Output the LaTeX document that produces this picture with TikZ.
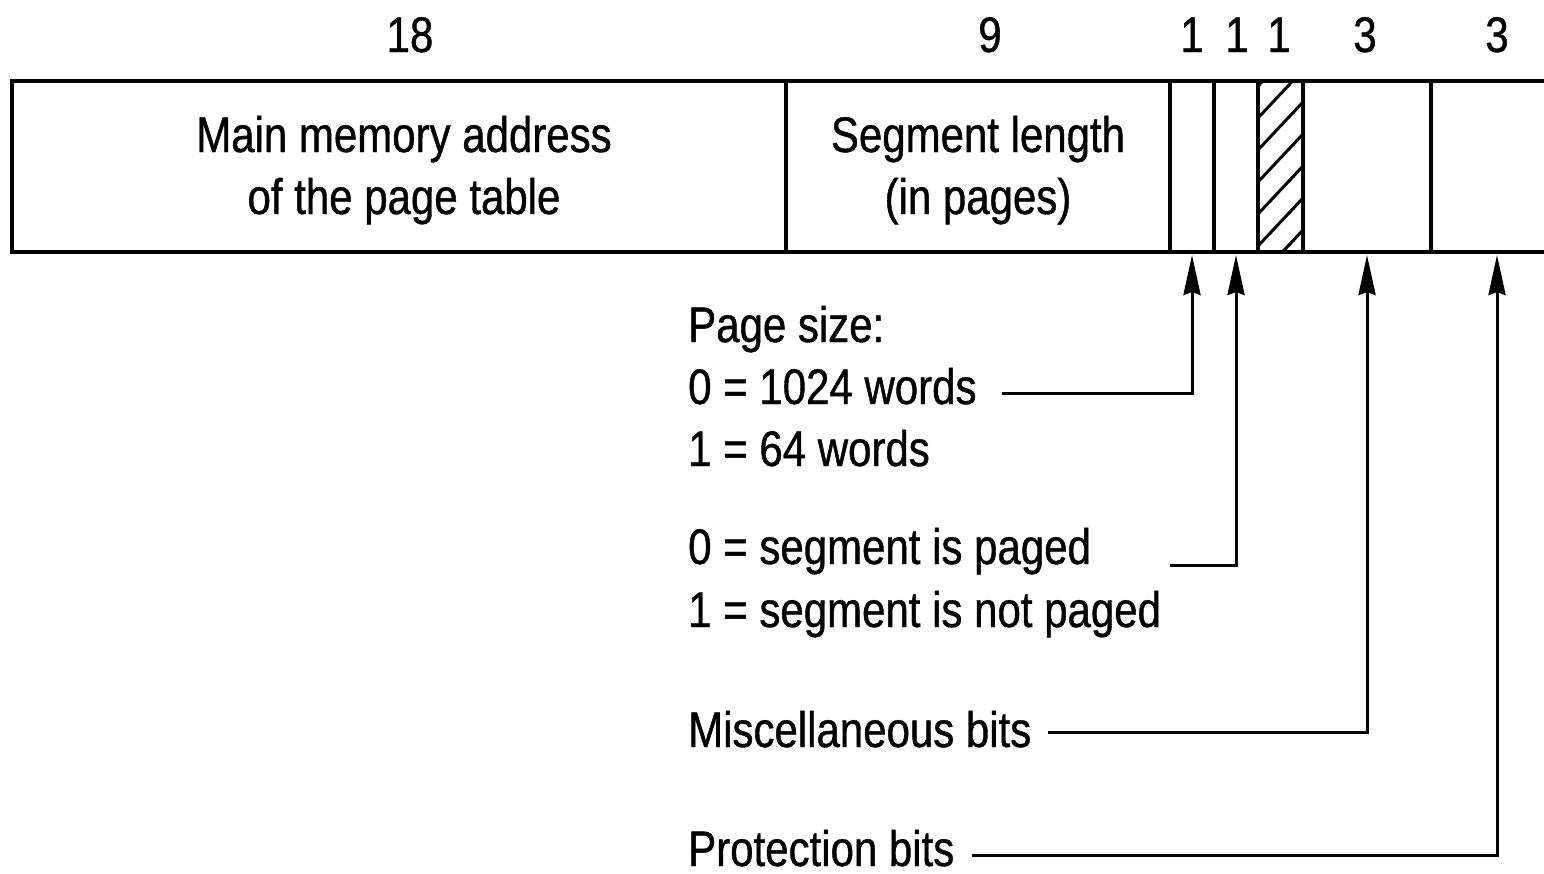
\documentclass[tikz,border=0pt]{standalone}
\usepackage{fontspec}
\setmainfont[FakeStretch=0.84,FakeBold=0.8]{Liberation Sans}
\usetikzlibrary{arrows.meta}
\begin{document}
\begin{tikzpicture}[x=1pt,y=-1pt,
  field/.style={draw, line width=4pt, rectangle, inner sep=0pt, outer sep=0pt, minimum height=171pt, anchor=north west},
  txt/.style={font=\fontsize{50}{60}\selectfont, inner sep=0pt, anchor=base},
  lbl/.style={font=\fontsize{50}{60}\selectfont, inner sep=0pt, anchor=base west},
  hatch/.style={line width=3pt},
  arr/.style={line width=3pt, -{Stealth[length=40pt,width=17pt,inset=3pt]}, shorten >=3pt}]
\useasboundingbox (0,0) rectangle (1544,873);
\clip (0,0) rectangle (1544,873);
% hatch of the unused bit
\begin{scope}
  \clip (1258,81) rectangle (1303,252);
  \foreach \k in {0,...,8} \draw[hatch] (1258,{54+\k*32}) -- (1303,{54+\k*32-48});
\end{scope}
% fields
\node[field, minimum width=774pt] (main) at (12,81) {};
\node[field, minimum width=384pt] (seg) at (786,81) {};
\node[field, minimum width=44pt] (b1) at (1170,81) {};
\node[field, minimum width=44pt] (b2) at (1214,81) {};
\node[field, minimum width=45pt] (b3) at (1258,81) {};
\node[field, minimum width=128pt] (misc) at (1303,81) {};
\node[field, minimum width=132pt] (prot) at (1431,81) {};
% bit counts
\node[txt] (n18) at (410,52) {18};
\node[txt] (n9) at (990,52) {9};
\node[txt] (n1a) at (1192,52) {1};
\node[txt] (n1b) at (1237,52) {1};
\node[txt] (n1c) at (1279,52) {1};
\node[txt] (n3a) at (1365,52) {3};
\node[txt] (n3b) at (1497,52) {3};
% field texts
\node[txt] (mt1) at (404,152) {Main memory address};
\node[txt] (mt2) at (404,214) {of the page table};
\node[txt] (st1) at (978,152) {Segment length};
\node[txt] (st2) at (978,214) {(in pages)};
% labels
\node[lbl] (ps) at (688,342) {Page size:};
\node[lbl] (ps0) at (688,404) {0 = 1024 words};
\node[lbl] (ps1) at (688,466) {1 = 64 words};
\node[lbl] (sp0) at (688,564) {0 = segment is paged};
\node[lbl] (sp1) at (688,627) {1 = segment is not paged};
\node[lbl] (mb) at (688,747) {Miscellaneous bits};
\node[lbl] (pb) at (688,866) {Protection bits};
% connectors
\coordinate (c1) at (1002,393);
\coordinate (c2) at (1170,565);
\coordinate (c3) at (1048,732);
\coordinate (c4) at (972,855);
\draw[arr] (c1) -| (b1.south);
\draw[arr] (c2) -| (b2.south);
\draw[arr] (c3) -| (misc.south);
\draw[arr] (c4) -| (prot.south);
\end{tikzpicture}
\end{document}
